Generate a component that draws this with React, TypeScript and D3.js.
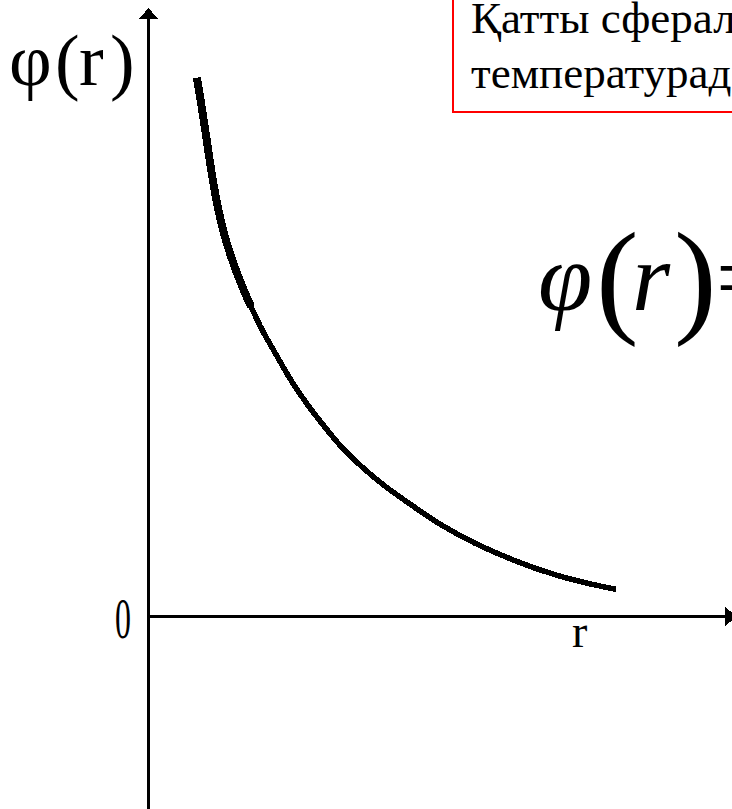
import React from "react";
import * as d3 from "d3";

const rValues = [0.83, 0.9, 0.99, 1.07, 1.17, 1.29, 1.43, 1.59, 1.76, 1.96, 2.19, 2.43, 2.68, 2.98, 3.3, 3.66, 4.06, 4.48, 4.99, 5.6, 6.29, 6.97, 7.57, 8.02];
const phiValues = [8.89, 8.48, 7.92, 7.4, 6.85, 6.34, 5.9, 5.49, 5.11, 4.71, 4.32, 3.92, 3.56, 3.18, 2.81, 2.47, 2.15, 1.86, 1.53, 1.21, 0.92, 0.69, 0.54, 0.45];
const titleLines = ["Қатты сфералар моделі", "температурада"];
const yAxisLabel = ["φ", "(", "r", ")"];
const xAxisLabel = "r";
const originLabel = "0";

const W = 732;
const H = 809;

export default function App() {
  const x = d3.scaleLinear().domain([0, 10]).range([148.5, 731.5]);
  const y = d3.scaleLinear().domain([0, 10]).range([616.5, 10.5]);
  const pts: [number, number][] = rValues.map((r, i) => [r, phiValues[i]]);
  const line = d3
    .line<[number, number]>()
    .x((d) => x(d[0]))
    .y((d) => y(d[1]))
    .curve(d3.curveCatmullRom);
  const x0 = x(0);
  const y0 = y(0);
  const yTop = 19;
  const serif = "'Liberation Serif', 'Times New Roman', serif";
  return (
    <svg
      width={W}
      height={H}
      style={{ position: "absolute", left: 0, top: 0, background: "#fff" }}
    >
      <rect x={0} y={0} width={W} height={H} fill="#fff" />
      {/* axes */}
      <line x1={x0} x2={x0} y1={yTop} y2={H} stroke="#000" strokeWidth={3} shapeRendering="crispEdges" />
      <polygon points={`${x0},8 ${x0 - 9.5},${yTop} ${x0 + 9.5},${yTop}`} fill="#000" shapeRendering="crispEdges" />
      <line x1={x0} x2={725} y1={y0} y2={y0} stroke="#000" strokeWidth={3} shapeRendering="crispEdges" />
      <polygon points={`737,${y0} 725,${y0 - 9.5} 725,${y0 + 9.5}`} fill="#000" shapeRendering="crispEdges" />
      {/* curve */}
      <path d={line(pts) || ""} fill="none" stroke="#000" strokeWidth={5.5} shapeRendering="crispEdges" />
      <path d={line(pts.slice(0, 9)) || ""} fill="none" stroke="#000" strokeWidth={8} shapeRendering="crispEdges" />
      {/* y label */}
      <g fontFamily={serif} fontSize={74} fill="#000">
        <text x={9} y={85}>{yAxisLabel[0]}</text>
        <text x={55} y={86}>{yAxisLabel[1]}</text>
        <text x={79} y={85}>{yAxisLabel[2]}</text>
        <text x={110} y={86}>{yAxisLabel[3]}</text>
      </g>
      {/* origin label */}
      <text
        fontFamily={serif}
        fontSize={58}
        fill="#000"
        transform="translate(115,638) scale(0.55,1)"
      >
        {originLabel}
      </text>
      {/* x label */}
      <text x={572} y={647} fontFamily={serif} fontSize={46} fill="#000">
        {xAxisLabel}
      </text>
      {/* title box */}
      <rect x={453} y={-10} width={400} height={122} fill="#fff" stroke="#ff0000" strokeWidth={2} />
      <g fontFamily={serif} fontSize={45} fill="#000">
        <text x={471} y={33}>{titleLines[0]}</text>
        <text x={471} y={88}>{titleLines[1]}</text>
      </g>
      {/* formula */}
      <g fontFamily={serif} fill="#000">
        <text x={538} y={310} fontSize={98} fontStyle="italic">φ</text>
        <text x={596} y={320} fontSize={128}>(</text>
        <text x={632} y={310} fontSize={98} fontStyle="italic">r</text>
        <text x={674} y={320} fontSize={128}>)</text>
        <text x={716} y={310} fontSize={96}>=</text>
      </g>
    </svg>
  );
}
